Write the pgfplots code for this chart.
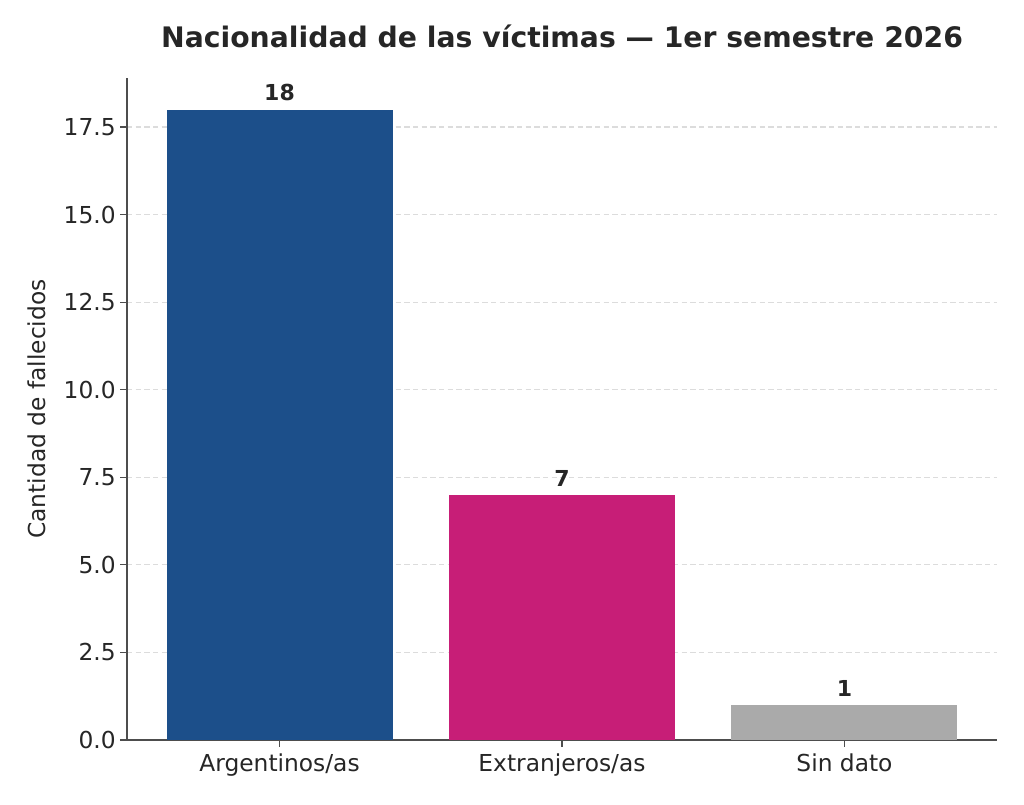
\documentclass[border=0pt]{standalone}
\usepackage{pgfplots}
\pgfplotsset{compat=1.18}
\usepackage{fontspec}
\setmainfont{DejaVu Sans}
\definecolor{cblue}{HTML}{1C4F8A}
\definecolor{cpink}{HTML}{C71E77}
\definecolor{cgray}{HTML}{AAAAAA}
\definecolor{txt}{HTML}{262626}
\definecolor{spine}{HTML}{4D4D4D}
\definecolor{gridc}{HTML}{DCDCDC}
\begin{document}
\begin{tikzpicture}
\useasboundingbox (0,0) rectangle (768pt,603.75pt);
\begin{axis}[
  at={(95.25pt,48.75pt)}, anchor=south west,
  scale only axis, width=652.5pt, height=496.5pt,
  xmin=-0.54, xmax=2.54, ymin=0, ymax=18.9,
  axis x line*=bottom, axis y line*=left,
  axis line style={spine, line width=0.8pt},
  xtick={0,1,2}, xticklabels={Argentinos/as, Extranjeros/as, Sin dato},
  ytick={0,2.5,5,7.5,10,12.5,15,17.5},
  yticklabel style={/pgf/number format/.cd, fixed, fixed zerofill, precision=1},
  xticklabel style={yshift=-2pt},
  /pgf/number format/assume math mode=true,
  tick style={spine, line width=0.8pt},
  tick align=outside, major tick length=5pt,
  ticklabel style={font=\fontsize{17.5}{19}\selectfont, text=txt},
  ymajorgrids, grid style={gridc, dash pattern=on 4pt off 2.5pt, line width=0.8pt},
  ylabel={Cantidad de fallecidos},
  ylabel style={at={(-67.5pt,248.25pt)}, anchor=center, font=\fontsize{17.5}{19}\selectfont, text=txt},
  ybar, bar width=0.8, bar shift=0pt,
  nodes near coords,
  nodes near coords style={font=\bfseries\fontsize{16.5}{18}\selectfont, text=txt, anchor=south, yshift=3pt},
  clip=false,
]
\addplot[fill=cblue, draw=none, bar shift=0pt] coordinates {(0,18)};
\addplot[fill=cpink, draw=none, bar shift=0pt] coordinates {(1,7)};
\addplot[fill=cgray, draw=none, bar shift=0pt] coordinates {(2,1)};
\end{axis}
\node[anchor=base, font=\bfseries\fontsize{21.2}{24}\selectfont, text=txt] at (421.5pt,567.75pt) {Nacionalidad de las víctimas — 1er semestre 2026};
\end{tikzpicture}
\end{document}
